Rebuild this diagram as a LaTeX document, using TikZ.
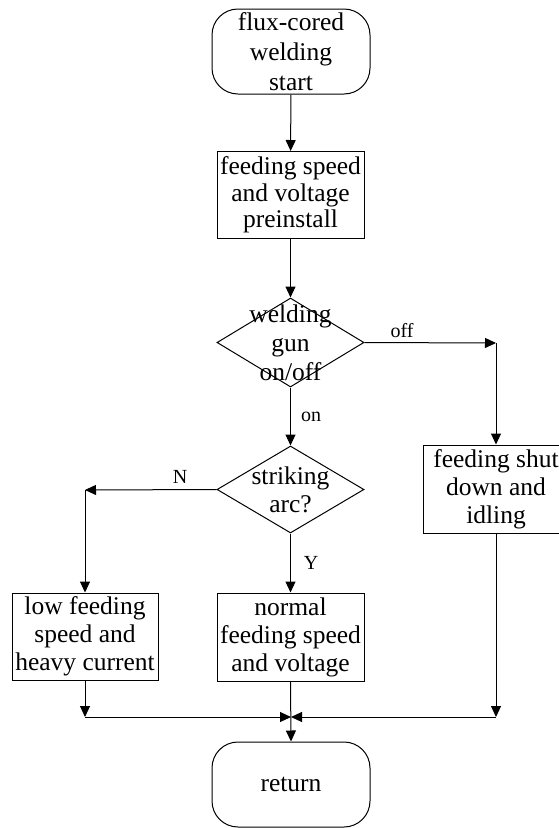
\documentclass[tikz,border=0pt]{standalone}
\usepackage{fontspec}
\setmainfont{Liberation Serif}
\usetikzlibrary{shapes.geometric,arrows.meta}

\tikzset{
  base/.style={draw, line width=1pt, inner sep=0pt, align=center,
               font=\fontsize{25.5}{28}\selectfont},
  terminal/.style={base, rounded corners=26pt, minimum width=158pt, minimum height=85pt},
  process/.style={base, rectangle, minimum width=147pt, minimum height=87pt},
  decision/.style={draw, line width=1pt, diamond, inner sep=0pt, aspect=1.65,
                   minimum width=147pt, minimum height=89pt},
  dtext/.style={align=center, inner sep=0pt, font=\fontsize{25.5}{29}\selectfont},
  flow/.style={line width=1pt, -{Triangle[length=11pt,width=10pt]}},
  tag/.style={font=\fontsize{20}{22}\selectfont, inner sep=0pt}
}

\begin{document}
\begin{tikzpicture}[x=1pt,y=-1pt]
  \useasboundingbox (0,0) rectangle (559,828);
  \clip (0,0) rectangle (559,828);

  % boxes
  \node[terminal, font=\fontsize{25.5}{30}\selectfont] (start) at (291,51.5) {flux-cored\\welding\\start};
  \node[process, font=\fontsize{25.5}{26.5}\selectfont] (pre) at (290.5,195) {feeding speed\\and voltage\\preinstall};
  \node[decision, minimum height=89pt] (gun) at (290.5,342.5) {};
  \node[dtext] (guntext) at (290.5,343) {welding\\gun\\on/off};
  \node[decision, minimum height=87pt] (arc) at (290.5,489.5) {};
  \node[dtext, font=\fontsize{25.5}{28}\selectfont] (arctext) at (290.5,490) {striking\\arc?};
  \node[process, minimum width=146pt, minimum height=88pt] (shut) at (496,489) {feeding shut\\down and\\idling};
  \node[process, minimum width=146pt] (low) at (85,636.5) {low feeding\\speed and\\heavy current};
  \node[process, minimum height=88pt] (normal) at (290.5,637) {normal\\feeding speed\\and voltage};
  \node[terminal] (ret) at (291,784.5) {return};

  % bend and join points
  \coordinate (offc) at (496,343);
  \coordinate (nc) at (85,490);
  \coordinate (jl) at (85,717);
  \coordinate (jr) at (496,717);
  \coordinate (jc) at (291,717);

  % connectors
  \draw[flow] (start) -- (pre);
  \draw[flow] (pre) -- (gun);
  \draw[flow] (gun.east) -- (offc);
  \draw[flow] (offc) -- (shut.north);
  \draw[flow] (gun.south) -- (arc.north);
  \draw[flow] (arc.west) -- (nc);
  \draw[flow] (nc) -- (low.north);
  \draw[flow] (arc.south) -- (normal.north);
  \draw[flow] (low.south) -- (jl);
  \draw[flow] (shut.south) -- (jr);
  \draw[flow] (jl) -- (jc);
  \draw[flow] (jr) -- (jc);
  \draw[flow] (normal.south) -- (ret.north);

  % branch labels
  \node[tag] (toff) at (402,331) {off};
  \node[tag] (ton) at (311,417) {on};
  \node[tag] (tn) at (180,477) {N};
  \node[tag] (ty) at (311,563) {Y};
\end{tikzpicture}
\end{document}
